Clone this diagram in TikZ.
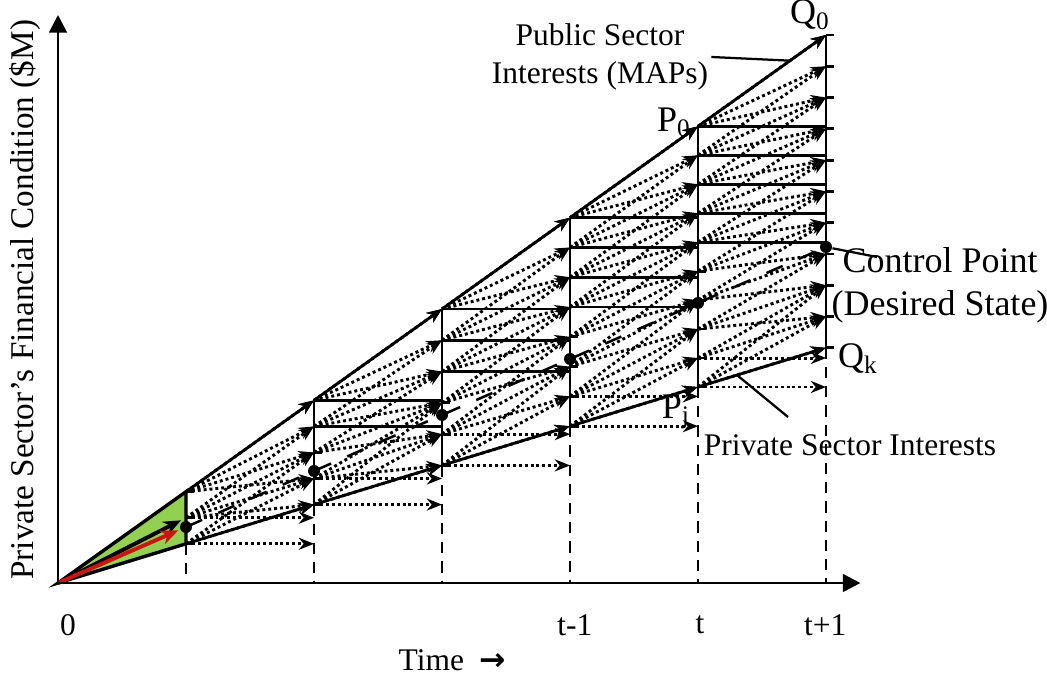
\documentclass[tikz,border=0pt]{standalone}
\usepackage{fontspec}
\setmainfont{Liberation Serif}
\newfontfamily\arrowfont{DejaVu Sans}
\usetikzlibrary{arrows.meta, calc}
\definecolor{triGreen}{RGB}{146,208,80}
\definecolor{ctrlRed}{RGB}{204,20,20}
\def\colgap{1.6}
\def\uprate{1.1417}
\def\lorate{0.49}
\def\ctrlrate{0.7}
\tikzset{
  colline/.style={line width=1pt},
  dropline/.style={line width=0.9pt, dash pattern=on 1.4mm off 1mm},
  levelline/.style={line width=1pt},
  fanarrow/.style={-{Stealth[length=1.9mm,width=1.5mm]}, line width=1.05pt,
                   dash pattern=on 1.05pt off 1.05pt},
  edgearrow/.style={-{Stealth[length=1.9mm,width=1.5mm]}, line width=1pt},
  ctrlline/.style={line width=0.9pt, dash pattern=on 2.2mm off 2.2mm},
  ctrldot/.style={circle, fill, inner sep=0pt, minimum size=1.5mm},
  leader/.style={line width=0.8pt},
  axisarrow/.style={-{Triangle[length=2.2mm,width=2.2mm]}, line width=1pt},
  lbl/.style={font=\fontsize{11.2}{13.4}\selectfont, inner sep=1pt, align=center},
  biglbl/.style={lbl, font=\fontsize{12.8}{15.2}\selectfont},
}

\begin{document}
\begin{tikzpicture}
  \useasboundingbox (-0.725,-1.175) rectangle (12.3625,7.2875);
  \coordinate (O) at (0,0);

  % columns and their levels
  \foreach \k/\n in {1/2,2/4,3/5,4/7,5/9,6/10}{
    \foreach \j in {0,...,\n}
      \coordinate (c-\k-\j) at ({\colgap*\k}, {\k*\lorate+\j*\k*(\uprate-\lorate)/\n});
    \coordinate (top-\k) at (c-\k-\n);
    \coordinate (bot-\k) at (c-\k-0);
    \coordinate (dot-\k) at ({\colgap*\k}, {\k*\ctrlrate});
    \coordinate (foot-\k) at ({\colgap*\k}, 0);
  }

  % green start region
  \filldraw[fill=triGreen, line width=1.2pt] (O) -- (top-1) -- (bot-1) -- cycle;

  % dotted fans
  \foreach \k/\n/\kk/\m in {1/2/2/4, 2/4/3/5, 3/5/4/7, 4/7/5/9, 5/9/6/10}{
    \foreach \i in {0,...,\n}{
      \foreach \j in {0,...,\m}{
        \pgfmathsetmacro\rise{\kk*\lorate+\j*\kk*(\uprate-\lorate)/\m-\k*\lorate-\i*\k*(\uprate-\lorate)/\n}
        \pgfmathtruncatemacro\fanok{(\rise>0.15)&&(\rise<1.3)}
        \ifnum\fanok=1 \draw[fanarrow] (c-\k-\i) -- (c-\kk-\j);\fi
      }
    }
  }
  \foreach \k/\kk in {1/2,2/3,3/4,4/5,5/6}
    \foreach \i in {0,1}
      \draw[fanarrow] (c-\k-\i) -- (c-\k-\i -| top-\kk);

  % solid level lines
  \foreach \k/\n/\kk in {2/4/3, 3/5/4, 4/7/5, 5/9/6}{
    \foreach \s in {1,...,\k}{
      \pgfmathtruncatemacro\lev{\n-\s+1}
      \draw[levelline] (c-\k-\lev) -- (c-\k-\lev -| top-\kk);
    }
  }

  % columns, ticks and drop lines
  \foreach \k/\n in {1/2,2/4,3/5,4/7,5/9,6/10}{
    \draw[colline] (bot-\k) -- (top-\k);
    \draw[dropline] (bot-\k) -- (foot-\k);
    \foreach \j in {0,...,\n}
      \draw[colline] (c-\k-\j) -- ++(0.1,0);
  }

  % upper and lower bounds
  \foreach \k/\kk in {1/2,2/3,3/4,4/5,5/6}{
    \draw[edgearrow] (top-\k) -- (top-\kk);
    \draw[edgearrow] (bot-\k) -- (bot-\kk);
  }

  % control path
  \draw[ctrlline] (dot-1) -- (dot-6);
  \draw[-{Stealth[length=2.2mm,width=1.8mm]}, line width=1.4pt, shorten >=2pt] (O) -- (c-1-1);
  \draw[-{Stealth[length=2.2mm,width=1.8mm]}, line width=1.4pt, ctrlRed, shorten >=3pt] (O) -- (dot-1);
  \foreach \k in {1,...,6}
    \node[ctrldot] (cp\k) at (dot-\k) {};

  % axes
  \draw[axisarrow] (O) -- (0,7.1);
  \draw[axisarrow] (O) -- (10.03,0);

  % labels
  \node[biglbl] (q0) at (9.4,7.1) {Q\textsubscript{0}};
  \node[biglbl] (p0) at (7.7,5.76) {P\textsubscript{0}};
  \node[biglbl] (qk) at (10.0,2.81) {Q\textsubscript{k}};
  \node[biglbl] (pj) at (7.725,2.14) {P\textsubscript{j}};
  \node[lbl] (pub) at (6.775,6.575) {Public Sector\\Interests (MAPs)};
  \node[biglbl] (ctrl) at (11.025,3.72) {Control Point\\(Desired State)};
  \node[lbl] (priv) at (9.9,1.725) {Private Sector Interests};
  \node[lbl] (t0) at (0.125,-0.525) {0};
  \node[lbl] (tm) at (6.46,-0.525) {t-1};
  \node[lbl] (tt) at (8.025,-0.525) {t};
  \node[lbl] (tp) at (9.59,-0.525) {t+1};
  \node[lbl] (time) at (4.93,-0.97) {Time\ \ {\arrowfont\bfseries →}};
  \node[lbl, font=\fontsize{11.8}{14}\selectfont, rotate=90] (ylbl) at (-0.41,3.54)
    {Private Sector’s Financial Condition (\$M)};

  % leaders
  \coordinate (pubpt) at (9.15,6.529);
  \coordinate (ctrlpt) at (10.2375,4.075);
  \coordinate (privpt) at (8.4875,2.599);
  \coordinate (privend) at (9.125,2.075);
  \draw[leader] (pub.east) -- (pubpt);
  \draw[leader] (cp6) -- (ctrlpt);
  \draw[leader] (privpt) -- (privend);
\end{tikzpicture}
\end{document}
